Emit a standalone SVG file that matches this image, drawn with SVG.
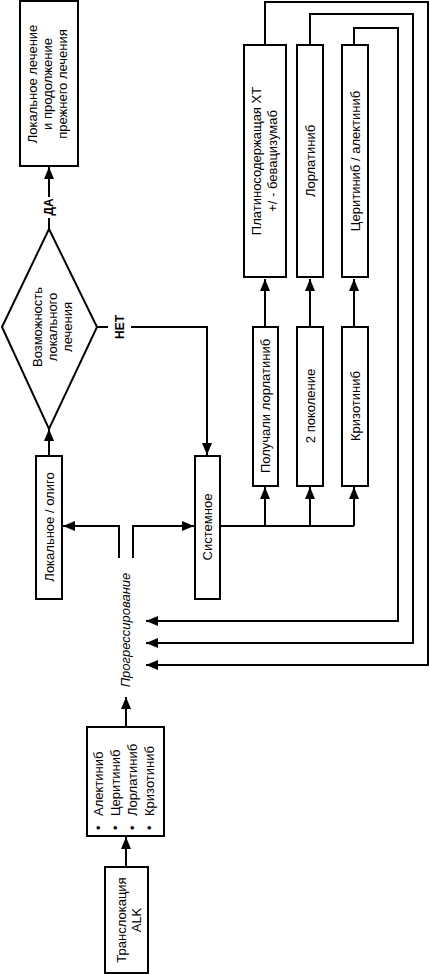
<svg xmlns="http://www.w3.org/2000/svg" width="430" height="974" viewBox="0 0 430 974">
<style>
  .box{fill:#fff;stroke:#000;stroke-width:2}
  .ln{fill:none;stroke:#000;stroke-width:2}
  .arr{marker-end:url(#ah)}
  text{font-family:"Liberation Sans","DejaVu Sans",sans-serif;font-size:13px;fill:#000;text-anchor:middle}
  .b{font-weight:bold;font-size:12px}
  .it{font-style:italic}
  .st{text-anchor:start}
</style>
<defs>
  <marker id="ah" markerUnits="userSpaceOnUse" markerWidth="13" markerHeight="10" refX="12" refY="5" orient="auto">
    <path d="M0,0 L12,5 L0,10 Z" fill="#000"/>
  </marker>
</defs>
<rect width="430" height="974" fill="#fff"/>

<g id="connectors">
  <path class="ln arr" d="M49,197 V167"/>
  <path class="ln" d="M49,229 V218"/>
  <path class="ln arr" d="M49,456 V429"/>
  <path class="ln" d="M97,327 H108"/>
  <path class="ln arr" d="M131,327 H207 V455"/>
  <path class="ln arr" d="M119,558 V526 H63"/>
  <path class="ln arr" d="M133,558 V526 H194"/>
  <path class="ln" d="M220,526 H354"/>
  <path class="ln arr" d="M265,526 V487"/>
  <path class="ln arr" d="M310,526 V487"/>
  <path class="ln arr" d="M354,526 V487"/>
  <path class="ln arr" d="M265,327 V279"/>
  <path class="ln arr" d="M310,327 V279"/>
  <path class="ln arr" d="M354,327 V279"/>
  <path class="ln arr" d="M265,45 V2 H428 V665 H146"/>
  <path class="ln arr" d="M310,45 V14 H413 V643 H146"/>
  <path class="ln arr" d="M354,45 V28 H398 V621 H146"/>
  <path class="ln arr" d="M126,727 V697"/>
  <path class="ln arr" d="M126,867 V837"/>
  <text class="b" transform="rotate(-90)" x="-207" y="53">ДА</text>
  <text class="b" transform="rotate(-90)" x="-327" y="124">НЕТ</text>
  <text class="it" transform="rotate(-90)" x="-630" y="130">Прогрессирование</text>
</g>

<g id="local-continue">
  <rect class="box" x="20" y="1" width="58" height="165"/>
  <text transform="rotate(-90)" x="-84" y="37">Локальное лечение</text>
  <text transform="rotate(-90)" x="-84" y="52">и продолжение</text>
  <text transform="rotate(-90)" x="-84" y="67">прежнего лечения</text>
</g>

<g id="decision">
  <path class="box" d="M49,229 L97,327 L49,429 L2,327 Z"/>
  <text transform="rotate(-90)" x="-327" y="42">Возможность</text>
  <text transform="rotate(-90)" x="-327" y="57">локального</text>
  <text transform="rotate(-90)" x="-327" y="72">лечения</text>
</g>

<g id="local-oligo">
  <rect class="box" x="36" y="456" width="26" height="143"/>
  <text transform="rotate(-90)" x="-527" y="54">Локальное / олиго</text>
</g>

<g id="systemic">
  <rect class="box" x="195" y="456" width="25" height="143"/>
  <text transform="rotate(-90)" x="-527" y="212">Системное</text>
</g>

<g id="got-lorlatinib">
  <rect class="box" x="253" y="327" width="25" height="159"/>
  <text transform="rotate(-90)" x="-406" y="270">Получали лорлатиниб</text>
</g>

<g id="gen2">
  <rect class="box" x="297" y="327" width="26" height="159"/>
  <text transform="rotate(-90)" x="-406" y="315">2 поколение</text>
</g>

<g id="crizotinib">
  <rect class="box" x="342" y="327" width="26" height="159"/>
  <text transform="rotate(-90)" x="-406" y="360">Кризотиниб</text>
</g>

<g id="platinum">
  <rect class="box" x="244" y="45" width="42" height="232"/>
  <text transform="rotate(-90)" x="-161" y="261">Платиносодержащая ХТ</text>
  <text transform="rotate(-90)" x="-161" y="277">+/ - бевацизумаб</text>
</g>

<g id="lorlatinib">
  <rect class="box" x="297" y="45" width="26" height="232"/>
  <text transform="rotate(-90)" x="-161" y="315">Лорлатиниб</text>
</g>

<g id="ceritinib-alectinib">
  <rect class="box" x="342" y="45" width="26" height="232"/>
  <text transform="rotate(-90)" x="-161" y="360">Церитиниб / алектиниб</text>
</g>

<g id="drugs">
  <rect class="box" x="87" y="727" width="77" height="109"/>
  <text class="st" transform="rotate(-90)" x="-830" y="103">•</text>
  <text class="st" transform="rotate(-90)" x="-830" y="120">•</text>
  <text class="st" transform="rotate(-90)" x="-830" y="137">•</text>
  <text class="st" transform="rotate(-90)" x="-830" y="154">•</text>
  <text class="st" transform="rotate(-90)" x="-816" y="103">Алектиниб</text>
  <text class="st" transform="rotate(-90)" x="-816" y="120">Церитиниб</text>
  <text class="st" transform="rotate(-90)" x="-816" y="137">Лорлатиниб</text>
  <text class="st" transform="rotate(-90)" x="-816" y="154">Кризотиниб</text>
</g>

<g id="alk">
  <rect class="box" x="105" y="867" width="43" height="106"/>
  <text transform="rotate(-90)" x="-920" y="126">Транслокация</text>
  <text transform="rotate(-90)" x="-920" y="141">ALK</text>
</g>
</svg>
